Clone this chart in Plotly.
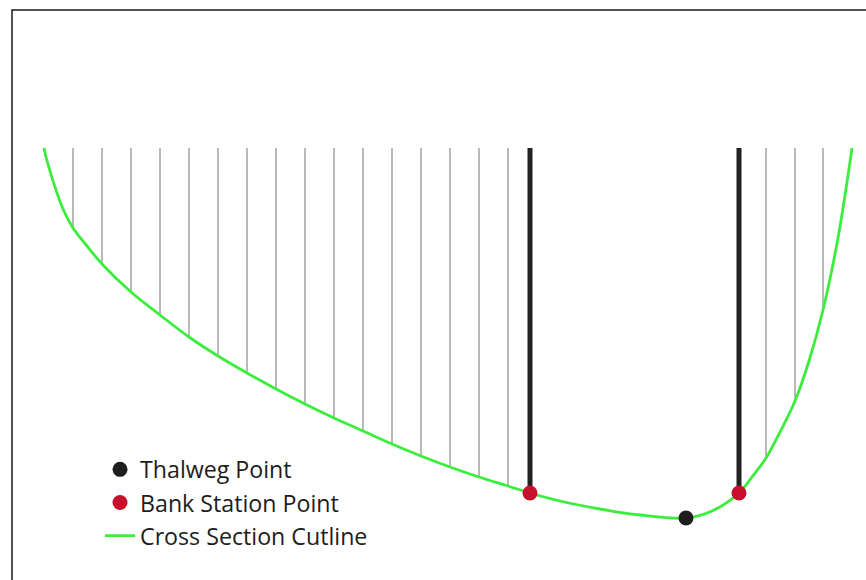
import plotly.graph_objects as go

# cross section profile (station ft, elevation ft)
station = [0, 1, 3, 5.5, 9.5, 14.5, 21.5, 29, 43.5, 58, 72.5, 87, 101.5, 116, 130.5, 145,
           159.5, 174, 188.5, 203, 217.5, 232, 243, 258, 278, 298, 321, 334, 347.5, 354,
           361, 368, 375.5, 382.5, 389.5, 397, 404]
elevation = [100.0, 99.1, 97.7, 96.1, 93.9, 92.0, 90.2, 88.4, 85.6, 83.3, 81.1, 79.2,
             77.5, 75.9, 74.4, 73.0, 71.7, 70.4, 69.2, 68.1, 67.1, 66.2, 65.5, 64.7,
             63.9, 63.3, 63.0, 63.7, 65.5, 67.1, 69.0, 71.6, 74.7, 78.7, 83.8, 91.0, 100.0]

# overbank hatch lines (station, ground elevation at that station)
hatch_station = [14.5, 29, 43.5, 58, 72.5, 87, 101.5, 116, 130.5, 145, 159.5, 174,
                 188.5, 203, 217.5, 232, 361, 375.5, 389.5]
hatch_ground = [92.0, 88.4, 85.6, 83.3, 81.1, 79.2, 77.5, 75.9, 74.4, 73.0, 71.7, 70.4,
                69.2, 68.1, 67.1, 66.2, 69.0, 74.7, 83.8]
top_elev = 100.0

bank_station = [243, 347.5]
bank_elev = [65.5, 65.5]
thalweg_station = [321]
thalweg_elev = [63.0]


def segments(xs, y_lo, y_hi):
    sx, sy = [], []
    for x, lo in zip(xs, y_lo):
        sx += [x, x, None]
        sy += [lo, y_hi, None]
    return sx, sy


fig = go.Figure()

hx, hy = segments(hatch_station, hatch_ground, top_elev)
fig.add_trace(go.Scatter(x=hx, y=hy, mode="lines", showlegend=False, hoverinfo="skip",
                         line=dict(color="#8a8a8a", width=1.2)))

bx, by = segments(bank_station, bank_elev, top_elev)
fig.add_trace(go.Scatter(x=bx, y=by, mode="lines", showlegend=False, hoverinfo="skip",
                         line=dict(color="#222222", width=5)))

fig.add_trace(go.Scatter(x=station, y=elevation, mode="lines", name="Cross Section Cutline",
                         legendrank=3,
                         line=dict(color="#3ded3d", width=2.8, shape="spline", smoothing=1.0,
                                   simplify=False)))

fig.add_trace(go.Scatter(x=bank_station, y=bank_elev, mode="markers", name="Bank Station Point",
                         legendrank=2, marker=dict(color="#c8102e", size=15)))

fig.add_trace(go.Scatter(x=thalweg_station, y=thalweg_elev, mode="markers", name="Thalweg Point",
                         legendrank=1, marker=dict(color="#1e1e1e", size=15)))

fig.update_layout(
    width=866, height=580,
    margin=dict(l=0, r=0, t=0, b=0),
    paper_bgcolor="white", plot_bgcolor="white",
    font=dict(family="Open Sans, sans-serif", color="#1e1c1c"),
    legend=dict(x=0.1155, y=0.228, xanchor="left", yanchor="top", font=dict(size=23.2),
                bgcolor="rgba(0,0,0,0)", borderwidth=0),
    shapes=[dict(type="rect", xref="paper", yref="paper", x0=12 / 866, x1=1.02,
                 y0=-0.02, y1=1 - 10 / 580, line=dict(color="#1a1a1a", width=1.5))],
)
fig.update_xaxes(range=[-22, 411], visible=False, fixedrange=True)
fig.update_yaxes(range=[56.8, 114.8], visible=False, fixedrange=True)

fig.write_html("out.html", config={"displayModeBar": False},
               post_script="document.body.style.margin='0';")
